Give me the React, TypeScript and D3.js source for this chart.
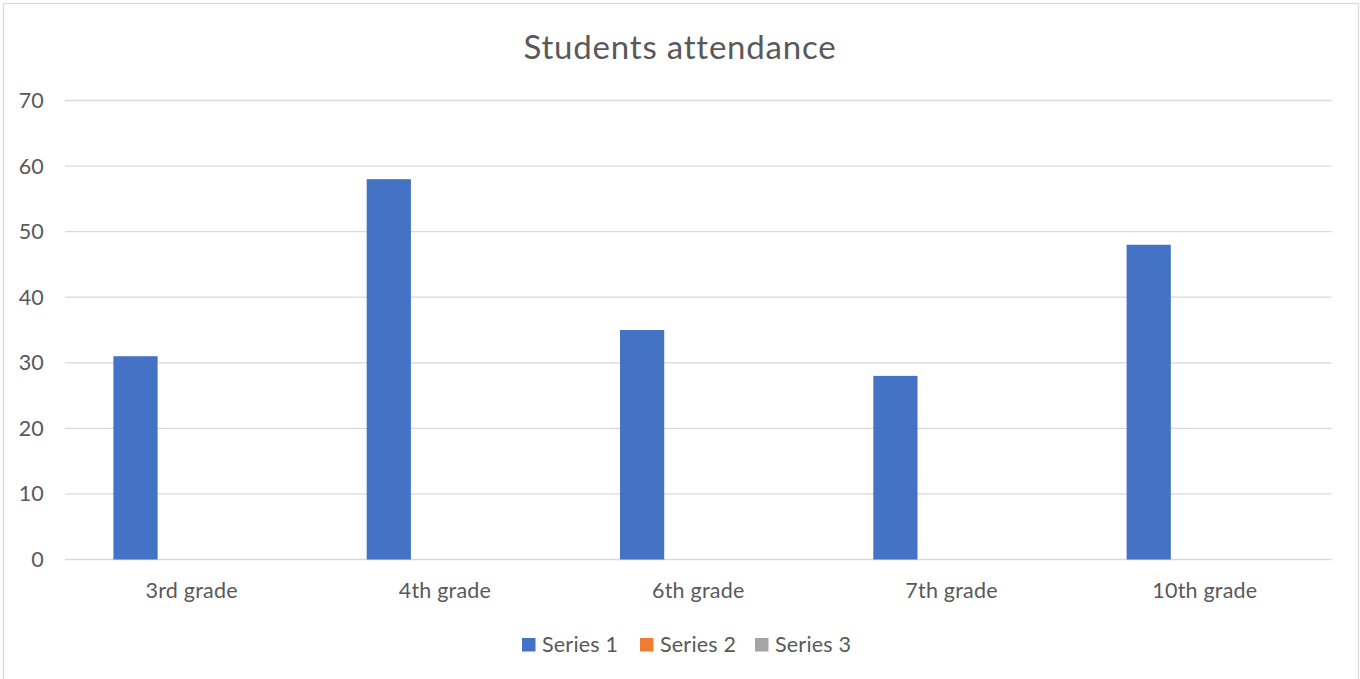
import React from "react";
import * as d3 from "d3";

const title = "Students attendance";
const categories = ["3rd grade", "4th grade", "6th grade", "7th grade", "10th grade"];
const seriesNames = ["Series 1", "Series 2", "Series 3"];
const series1 = [31, 58, 35, 28, 48];
const series2 = [0, 0, 0, 0, 0];
const series3 = [0, 0, 0, 0, 0];
const seriesColors = ["#4472C4", "#ED7D31", "#A5A5A5"];
const yTicks = [0, 10, 20, 30, 40, 50, 60, 70];

const W = 1360;
const H = 679;
const plotLeft = 65;
const plotRight = 1331.5;
const plotTop = 100.5;
const plotBottom = 559.5;
const FONT = "Lato, 'Open Sans', sans-serif";
const TEXT = "#595959";
const GRID = "#D9D9D9";
const LABEL_SIZE = 21.5;
const LABEL_SPACING = 0.2;

export default function App() {
  const seriesValues = [series1, series2, series3];
  const y = d3.scaleLinear().domain([0, 70]).range([plotBottom, plotTop]);
  const x = d3.scaleBand<string>().domain(categories).range([plotLeft, plotRight]).paddingInner(0).paddingOuter(0);
  const band = x.bandwidth();
  // Excel-style clustered layout: gap width 219%, overlap -27%
  const gap = 2.19;
  const overlap = -0.27;
  const n = seriesNames.length;
  const barW = band / (n + (n - 1) * -overlap + gap);
  const step = barW * (1 - overlap);
  const offset0 = (barW * gap) / 2;

  const legendX = [522, 640, 755];

  return (
    <div style={{ position: "absolute", left: 0, top: 0 }}>
      <svg width={W} height={H} style={{ display: "block", background: "#fff" }}>
        <rect x={3.5} y={3.5} width={1355} height={700} fill="#fff" stroke={GRID} strokeWidth={1.3} />
        <text x={680} y={59} textAnchor="middle" fontFamily={FONT} fontSize={33} letterSpacing={0.8} fill={TEXT}>
          {title}
        </text>
        {yTicks.map((t) => (
          <g key={t}>
            <line x1={plotLeft} x2={plotRight} y1={y(t)} y2={y(t)} stroke={GRID} strokeWidth={1.3} />
            <text x={44} y={y(t)} dy="0.35em" textAnchor="end" fontFamily={FONT} fontSize={LABEL_SIZE} letterSpacing={LABEL_SPACING} fill={TEXT}>
              {t}
            </text>
          </g>
        ))}
        {seriesValues.map((vals, si) =>
          vals.map((v, ci) => {
            const bx = (x(categories[ci]) as number) + offset0 + si * step;
            return (
              <rect
                key={`${si}-${ci}`}
                x={bx}
                y={y(v)}
                width={barW}
                height={plotBottom - y(v)}
                fill={seriesColors[si]}
              />
            );
          })
        )}
        {categories.map((c) => (
          <text
            key={c}
            x={(x(c) as number) + band / 2}
            y={598}
            textAnchor="middle"
            fontFamily={FONT}
            fontSize={LABEL_SIZE}
            letterSpacing={LABEL_SPACING}
            fill={TEXT}
          >
            {c}
          </text>
        ))}
        {seriesNames.map((s, i) => (
          <g key={s}>
            <rect x={legendX[i]} y={638} width={13.5} height={13.5} fill={seriesColors[i]} />
            <text x={legendX[i] + 20} y={651.5} fontFamily={FONT} fontSize={LABEL_SIZE} letterSpacing={LABEL_SPACING} fill={TEXT}>
              {s}
            </text>
          </g>
        ))}
      </svg>
    </div>
  );
}
